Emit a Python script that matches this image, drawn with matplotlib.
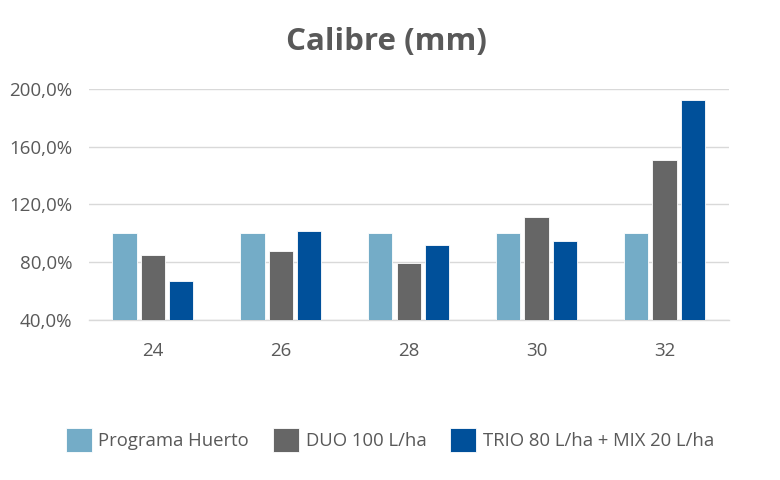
import matplotlib
matplotlib.use('Agg')
import numpy as np
import matplotlib.pyplot as plt
from matplotlib.ticker import FuncFormatter

plt.rcParams['font.family'] = ['Open Sans', 'DejaVu Sans']

# data
calibres = ['24', '26', '28', '30', '32']
programa_huerto = [100.0, 100.0, 100.0, 100.5, 100.0]
duo_100 = [84.8, 88.0, 79.3, 111.5, 151.0]
trio_mix = [67.0, 101.5, 92.3, 94.5, 192.5]
series_names = ['Programa Huerto', 'DUO 100 L/ha', 'TRIO 80 L/ha + MIX 20 L/ha']
colors = ['#74ACC7', '#666666', '#00509A']
text_gray = '#595959'

fig = plt.figure(figsize=(7.8, 4.8), dpi=100)
ax = fig.add_axes([0.114, 0.333, 0.820, 0.482])

x = np.arange(len(calibres))
w = 0.19
off = 0.222
base = 40
for i, vals in enumerate([programa_huerto, duo_100, trio_mix]):
    v = np.array(vals)
    ax.bar(x + (i - 1) * off, v - base, bottom=base, width=w, color=colors[i],
           edgecolor='white', linewidth=0.6, label=series_names[i], zorder=3)

ax.set_xlim(-0.5, 4.5)
ax.set_ylim(40, 200)
ax.set_yticks([40, 80, 120, 160, 200])
ax.yaxis.set_major_formatter(FuncFormatter(lambda v, p: f'{v:.1f}%'.replace('.', ',')))
ax.set_xticks(x)
ax.set_xticklabels(calibres)
ax.grid(axis='y', color='#D9D9D9', linewidth=1, zorder=0)
for s in ['top', 'right', 'left']:
    ax.spines[s].set_visible(False)
ax.spines['bottom'].set_color('#D9D9D9')
ax.spines['bottom'].set_linewidth(1)
ax.tick_params(axis='both', length=0, labelsize=13.5, colors=text_gray)
ax.tick_params(axis='x', pad=16)
ax.tick_params(axis='y', pad=12)

fig.text(0.496, 0.9125, 'Calibre (mm)', ha='center', va='center',
         fontsize=22.5, fontweight='bold', color=text_gray)

leg = fig.legend(loc='center', bbox_to_anchor=(0.5, 0.083), ncol=3, frameon=False,
                 fontsize=13.3, handlelength=1.4, handleheight=1.6,
                 handletextpad=0.35, columnspacing=1.3)
for t in leg.get_texts():
    t.set_color(text_gray)

fig.savefig('out.png', dpi=100)
